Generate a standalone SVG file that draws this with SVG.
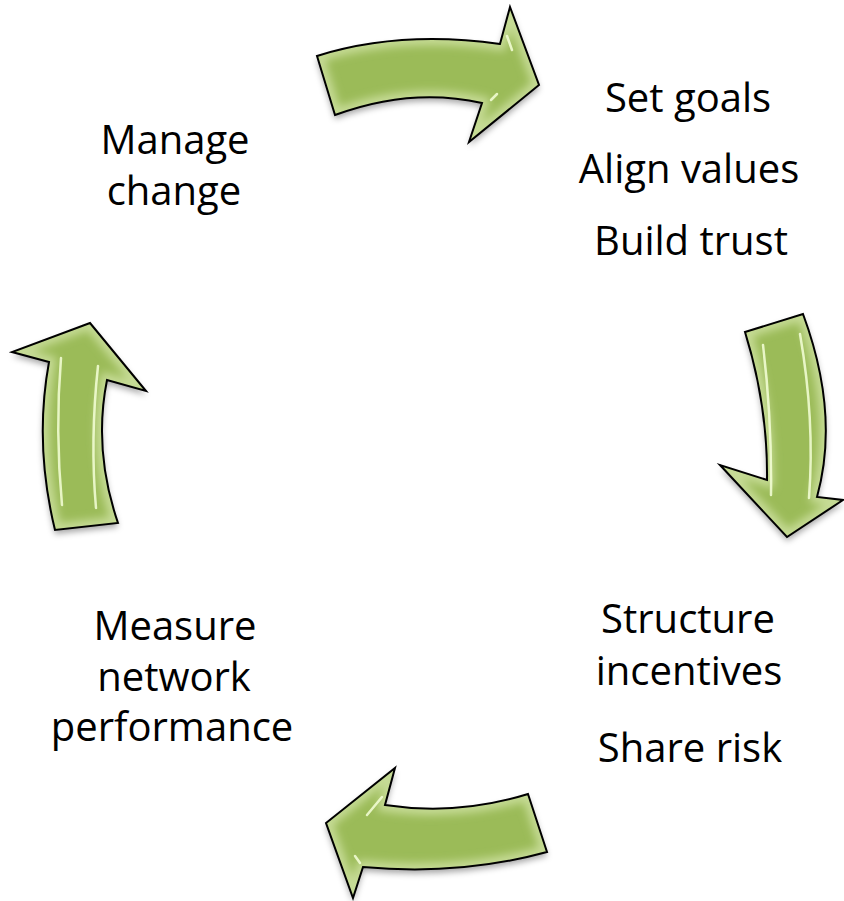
<svg xmlns="http://www.w3.org/2000/svg" xmlns:xlink="http://www.w3.org/1999/xlink" width="844" height="901" viewBox="0 0 844 901">
  <style>
    .lbl { font-family: "Open Sans", "Noto Sans", "Liberation Sans", sans-serif; font-size: 40px; fill: #000; text-anchor: middle; }
    .body { fill: #9BBB59; }
    .bevel { fill: none; stroke: #C6DB95; stroke-width: 13; }
    .outline { fill: none; stroke: #000; stroke-width: 2; stroke-linejoin: miter; }
    .glint { fill: none; stroke: #F4FFD8; stroke-width: 2.5; stroke-linecap: round; opacity: 0.85; }
  </style>
  <defs>
    <filter id="shadow" x="-20%" y="-20%" width="140%" height="150%">
      <feDropShadow dx="0" dy="4" stdDeviation="3" flood-color="#000" flood-opacity="0.35"/>
    </filter>
    <filter id="soft" x="-20%" y="-20%" width="140%" height="140%">
      <feGaussianBlur stdDeviation="4"/>
    </filter>
    <path id="a1" d="M 317 56 Q 400 30 500 44 L 510 7 L 539 85 L 469 142 L 482 103 Q 411 87 335 115 Z"/>
    <path id="a2" d="M 745 332 L 803 314 Q 840 414 817 497 L 843 500 L 787 537 L 720 465 L 767 480 Q 768 406 745 332 Z"/>
    <path id="a3" d="M 528 794 L 547 852 Q 459 876 363 867 L 353 898 L 326 823 L 395 768 L 385 805 Q 457 816 528 794 Z"/>
    <path id="a4" d="M 90 323 L 146 391 L 107 380 Q 93 450 118 523 L 55 530 Q 34 444 49 362 L 12 352 Z"/>
    <clipPath id="c1"><use xlink:href="#a1"/></clipPath>
    <clipPath id="c2"><use xlink:href="#a2"/></clipPath>
    <clipPath id="c3"><use xlink:href="#a3"/></clipPath>
    <clipPath id="c4"><use xlink:href="#a4"/></clipPath>
  </defs>

  <g id="connectors">
    <g id="arrow-top">
      <use xlink:href="#a1" class="body" filter="url(#shadow)"/>
      <g clip-path="url(#c1)"><use xlink:href="#a1" class="bevel" filter="url(#soft)"/></g>
      <path class="glint" d="M 507 36 L 512 50"/>
      <path class="glint" d="M 491 100 L 497 94"/>
      <use xlink:href="#a1" class="outline"/>
    </g>
    <g id="arrow-right">
      <use xlink:href="#a2" class="body" filter="url(#shadow)"/>
      <g clip-path="url(#c2)"><use xlink:href="#a2" class="bevel" filter="url(#soft)"/></g>
      <path class="glint" d="M 763 345 Q 772 420 771 495"/>
      <path class="glint" d="M 800 334 Q 815 420 809 498"/>
      <use xlink:href="#a2" class="outline"/>
    </g>
    <g id="arrow-bottom">
      <use xlink:href="#a3" class="body" filter="url(#shadow)"/>
      <g clip-path="url(#c3)"><use xlink:href="#a3" class="bevel" filter="url(#soft)"/></g>
      <path class="glint" d="M 367 815 L 382 797"/>
      <path class="glint" d="M 355 856 L 360 863"/>
      <use xlink:href="#a3" class="outline"/>
    </g>
    <g id="arrow-left">
      <use xlink:href="#a4" class="body" filter="url(#shadow)"/>
      <g clip-path="url(#c4)"><use xlink:href="#a4" class="bevel" filter="url(#soft)"/></g>
      <path class="glint" d="M 61 358 Q 55 430 62 505"/>
      <path class="glint" d="M 98 366 Q 90 440 96 508"/>
      <use xlink:href="#a4" class="outline"/>
    </g>
  </g>

  <g id="node-goals">
    <text class="lbl" x="688" y="112">Set goals</text>
    <text class="lbl" x="689" y="183">Align values</text>
    <text class="lbl" x="691" y="255">Build trust</text>
  </g>
  <g id="node-incentives">
    <text class="lbl" x="688" y="633">Structure</text>
    <text class="lbl" x="689" y="685">incentives</text>
    <text class="lbl" x="690" y="762">Share risk</text>
  </g>
  <g id="node-measure">
    <text class="lbl" x="175" y="640">Measure</text>
    <text class="lbl" x="174" y="691">network</text>
    <text class="lbl" x="172" y="741">performance</text>
  </g>
  <g id="node-change">
    <text class="lbl" x="175" y="154">Manage</text>
    <text class="lbl" x="174" y="205">change</text>
  </g>
</svg>
